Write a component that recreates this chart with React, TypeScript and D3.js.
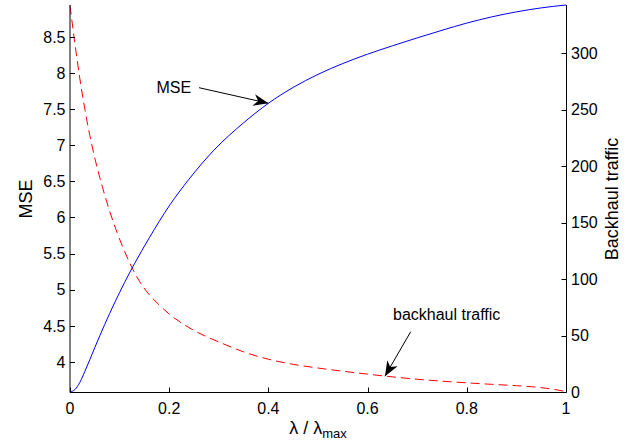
import React from "react";
import * as d3 from "d3";

// ---- data ----
const mseX = [0, 0.01, 0.02, 0.03, 0.05, 0.07, 0.09, 0.11, 0.13, 0.16, 0.2, 0.24, 0.29, 0.35, 0.4, 0.45, 0.5, 0.55, 0.6, 0.65, 0.7, 0.75, 0.8, 0.85, 0.9, 0.95, 1.0];
const mseY = [3.585, 3.62, 3.72, 3.87, 4.2, 4.52, 4.82, 5.1, 5.36, 5.72, 6.16, 6.53, 6.93, 7.31, 7.58, 7.8, 7.98, 8.13, 8.26, 8.375, 8.485, 8.59, 8.69, 8.775, 8.845, 8.9, 8.94];

const bhX = [0, 0.01, 0.02, 0.03, 0.04, 0.05, 0.065, 0.08, 0.095, 0.11, 0.125, 0.14, 0.16, 0.18, 0.2, 0.225, 0.25, 0.275, 0.3, 0.35, 0.4, 0.45, 0.5, 0.55, 0.6, 0.65, 0.7, 0.75, 0.8, 0.85, 0.9, 0.93, 0.96, 0.98, 1.0];
const bhY = [342, 308, 277, 250, 227, 207, 182, 160, 141, 124.5, 110, 98, 86, 77, 69, 61, 54.5, 49, 44.3, 35.5, 29, 24.5, 21.2, 18.4, 15.8, 13.4, 11.3, 9.6, 8.1, 6.8, 5.6, 4.7, 3.3, 2.0, 0.3];

const xTicks = [0, 0.2, 0.4, 0.6, 0.8, 1];
const leftTicks = [4, 4.5, 5, 5.5, 6, 6.5, 7, 7.5, 8, 8.5];
const rightTicks = [0, 50, 100, 150, 200, 250, 300];

const leftDomain = [3.585, 8.94];
const rightDomain = [0, 342.5];

const W = 631;
const H = 440;
const M = { left: 70, right: 566, top: 5, bottom: 392 };
const FONT = "'Liberation Sans', Arial, Helvetica, sans-serif";

function arrowHead(tipX: number, tipY: number, fromX: number, fromY: number, len: number, halfW: number) {
  const dx = tipX - fromX;
  const dy = tipY - fromY;
  const d = Math.hypot(dx, dy);
  const ux = dx / d, uy = dy / d;
  const px = -uy, py = ux;
  const bx = tipX - ux * len, by = tipY - uy * len;
  const nx = tipX - ux * len * 0.7, ny = tipY - uy * len * 0.7;
  return `M${tipX},${tipY} L${bx + px * halfW},${by + py * halfW} L${nx},${ny} L${bx - px * halfW},${by - py * halfW} Z`;
}

export default function App() {
  const x = d3.scaleLinear().domain([0, 1]).range([M.left, M.right]);
  const yL = d3.scaleLinear().domain(leftDomain).range([M.bottom, M.top]);
  const yR = d3.scaleLinear().domain(rightDomain).range([M.bottom, M.top]);

  const mseLine = d3
    .line<number>()
    .x((_, i) => x(mseX[i]))
    .y((d) => yL(d))
    .curve(d3.curveMonotoneX)(mseY) as string;

  const bhLine = d3
    .line<number>()
    .x((_, i) => x(bhX[i]))
    .y((d) => yR(d))
    .curve(d3.curveMonotoneX)(bhY) as string;

  // annotation tips in data coords
  const mseTip = { x: x(0.4), y: yL(7.58) };
  const mseTail = { x: 199, y: 87.7 };
  const bhTip = { x: x(0.635), y: yR(14) };
  const bhTail = { x: 410.7, y: 331.7 };

  const fmt = (v: number) => String(v);

  return (
    <svg
      width={W}
      height={H}
      viewBox={`0 0 ${W} ${H}`}
      style={{ position: "absolute", left: 0, top: 0, background: "#fff" }}
      fontFamily={FONT}
    >
      <rect x={0} y={0} width={W} height={H} fill="#fff" />

      {/* curves */}
      <path d={bhLine} fill="none" stroke="#ff0000" strokeWidth={1} strokeDasharray="9,5" />
      <path d={mseLine} fill="none" stroke="#0000ff" strokeWidth={1} />

      {/* axes lines */}
      <line x1={M.left} x2={M.left} y1={M.top} y2={M.bottom + 0.5} stroke="#000" strokeWidth={1} />
      <line x1={M.left} x2={M.right + 0.5} y1={M.bottom + 0.5} y2={M.bottom + 0.5} stroke="#000" strokeWidth={1} />
      <line x1={M.right + 0.5} x2={M.right + 0.5} y1={M.top} y2={M.bottom + 0.5} stroke="#000" strokeWidth={1} />

      {/* x ticks */}
      {xTicks.map((t) => (
        <g key={"x" + t}>
          <line x1={Math.round(x(t)) + 0.5} x2={Math.round(x(t)) + 0.5} y1={M.bottom} y2={M.bottom - 4.5} stroke="#000" />
          <text x={x(t)} y={413.5} textAnchor="middle" fontSize={16} fill="#000">
            {fmt(t)}
          </text>
        </g>
      ))}

      {/* left ticks */}
      {leftTicks.map((t) => (
        <g key={"l" + t}>
          <line x1={M.left} x2={M.left + 5} y1={Math.round(yL(t)) + 0.5} y2={Math.round(yL(t)) + 0.5} stroke="#000" />
          <text x={65.5} y={yL(t)} dy="0.36em" textAnchor="end" fontSize={16} fill="#000">
            {fmt(t)}
          </text>
        </g>
      ))}

      {/* right ticks */}
      {rightTicks.map((t) => (
        <g key={"r" + t}>
          <line x1={M.right + 0.5} x2={M.right - 4.5} y1={Math.round(yR(t)) + 0.5} y2={Math.round(yR(t)) + 0.5} stroke="#000" />
          <text x={571} y={yR(t)} dy="0.36em" textAnchor="start" fontSize={16} fill="#000">
            {fmt(t)}
          </text>
        </g>
      ))}

      {/* axis labels */}
      <text transform="translate(31.5,199) rotate(-90)" textAnchor="middle" fontSize={18} fill="#000">
        MSE
      </text>
      <text transform="translate(618,199) rotate(-90)" textAnchor="middle" fontSize={18} fill="#000">
        Backhaul traffic
      </text>
      <text x={318} y={434} textAnchor="middle" fontSize={18} fill="#000">
        λ / λ
        <tspan fontSize={13} dy={3.5}>max</tspan>
      </text>

      {/* annotations */}
      <text x={156.5} y={93} fontSize={16} fill="#000">
        MSE
      </text>
      <line x1={mseTail.x} y1={mseTail.y} x2={mseTip.x} y2={mseTip.y} stroke="#000" strokeWidth={1} />
      <path d={arrowHead(mseTip.x, mseTip.y, mseTail.x, mseTail.y, 15, 6)} fill="#000" />

      <text x={393} y={320} fontSize={16} fill="#000">
        backhaul traffic
      </text>
      <line x1={bhTail.x} y1={bhTail.y} x2={bhTip.x} y2={bhTip.y} stroke="#000" strokeWidth={1} />
      <path d={arrowHead(bhTip.x, bhTip.y, bhTail.x, bhTail.y, 15, 6)} fill="#000" />
    </svg>
  );
}
